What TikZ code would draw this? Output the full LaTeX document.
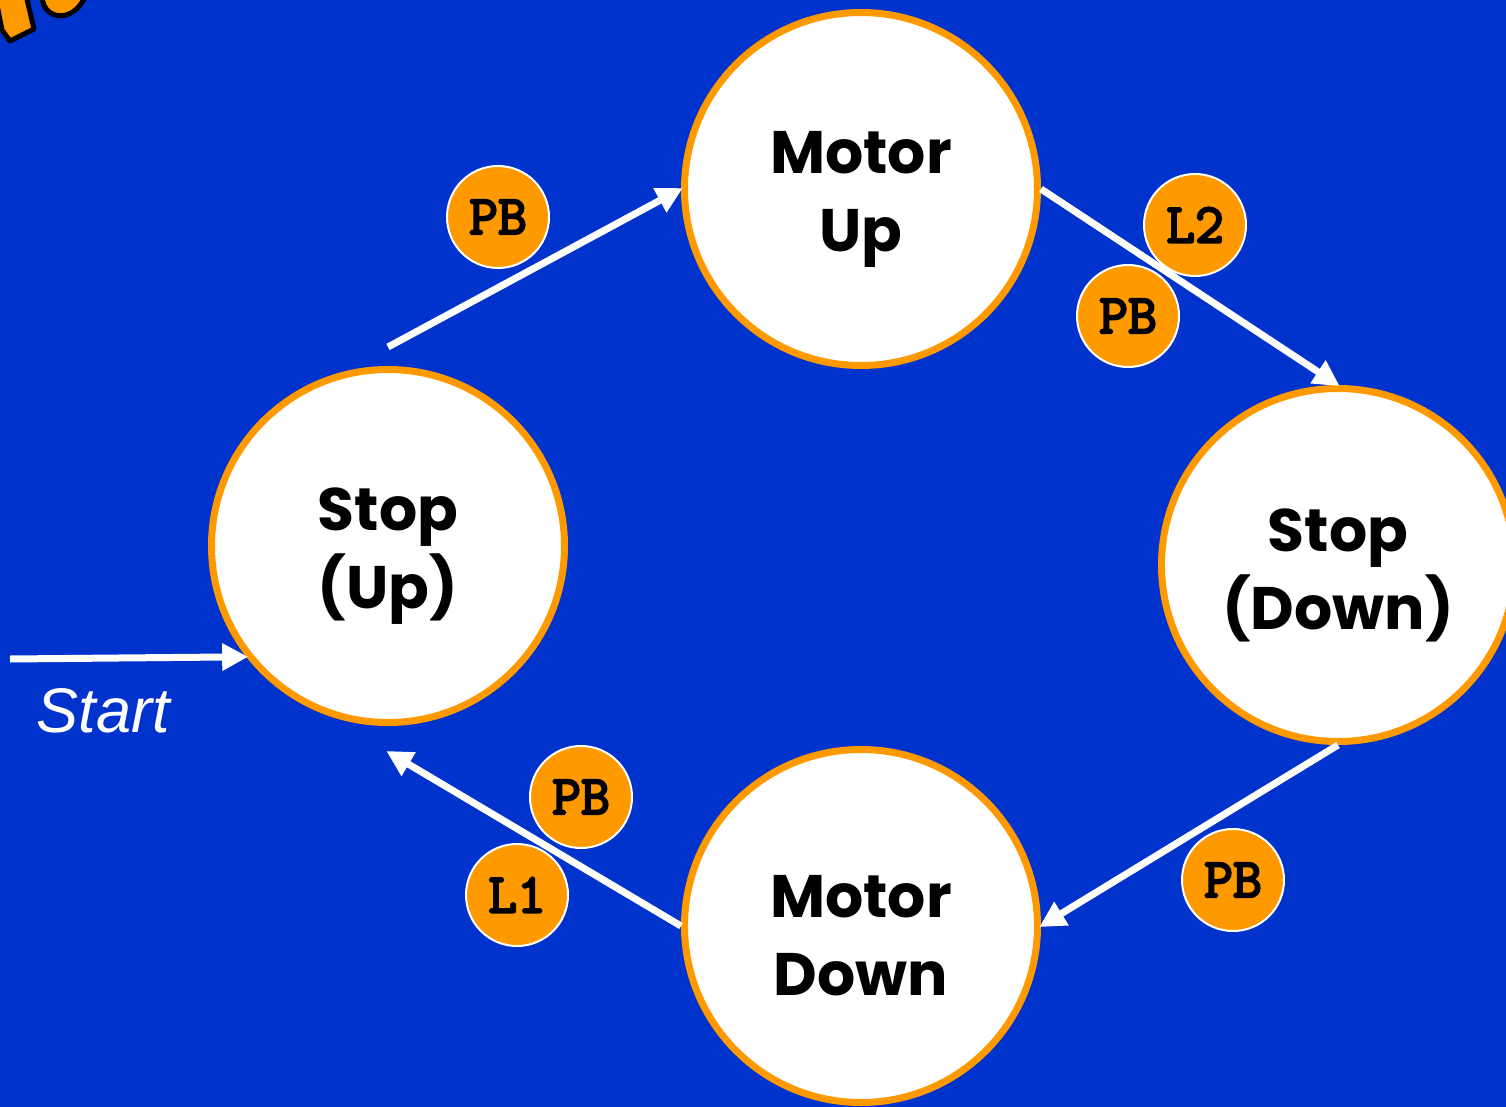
\documentclass[tikz,border=0pt]{standalone}
\usepackage{fontspec}
\usetikzlibrary{arrows.meta}
\newfontfamily\statefont{Poppins}
\newfontfamily\startfont{Liberation Sans}
\newfontfamily\badgefont{Latin Modern Mono}[FakeBold=4]
\definecolor{bgblue}{RGB}{0,51,204}
\definecolor{stateorange}{RGB}{255,153,0}
\tikzset{
  state/.style={circle, fill=white, draw=stateorange, line width=7pt,
    minimum size=353pt, inner sep=0pt},
  statetext/.style={align=center, inner sep=0pt, yshift=-10pt,
    font=\statefont\bfseries\fontsize{60}{78}\selectfont},
  badge/.style={circle, fill=stateorange, draw=white, line width=2pt,
    minimum size=102pt, inner sep=0pt,
    font=\badgefont\fontsize{56}{56}\selectfont},
  flow/.style={draw=white, line width=7pt,
    -{Triangle[length=26pt,width=26pt]}, shorten >=-2pt},
}
\begin{document}
\begin{tikzpicture}[x=1pt, y=-1pt]
  % backdrop and frame
  \fill[bgblue] (0,0) rectangle (1506,1107);
  \useasboundingbox (0,0) rectangle (1506,1107);
  \clip (0,0) rectangle (1506,1107);

  % corner lettering fragments
  \draw[black, line width=5pt, line join=round, fill=stateorange]
    (-5,-5) -- (26,-5) -- (34,29) -- (10,41) -- (2,30) -- cycle;
  \draw[black, line width=5pt, line join=round, fill=stateorange]
    (42,-5) .. controls (42,12) and (55,18) .. (66,15)
    .. controls (76,12) and (82,4) .. (86,-5) -- cycle;

  % states
  \node[state, label={[statetext]center:Motor\\Up}] (mu) at (861,189) {};
  \node[state, label={[statetext]center:Stop\\(Up)}] (su) at (388,546) {};
  \node[state, label={[statetext]center:Stop\\(Down)}] (sd) at (1338,565) {};
  \node[state, label={[statetext]center:Motor\\Down}] (md) at (861,926) {};

  % transitions
  \draw[flow] ([yshift=19pt]su.north) -- (mu.west);
  \draw[flow] (mu.east) -- (sd.north);
  \draw[flow] (sd.south) -- (md.east);
  \draw[flow] (md.west) -- ([yshift=-26pt]su.south);

  % entry arrow
  \coordinate (entry) at (10,659);
  \draw[flow] (entry) -- (su.218);
  \node[anchor=base west, text=white,
    font=\startfont\itshape\fontsize{63}{63}\selectfont] (start) at (33,732) {Start};

  % transition conditions
  \node[badge] (b1) at (498,217) {PB};
  \node[badge] (b2) at (1195,225) {L2};
  \node[badge] (b3) at (1128,316) {PB};
  \node[badge] (b4) at (1233,880) {PB};
  \node[badge] (b5) at (581,797) {PB};
  \node[badge] (b6) at (517,895) {L1};
\end{tikzpicture}
\end{document}
